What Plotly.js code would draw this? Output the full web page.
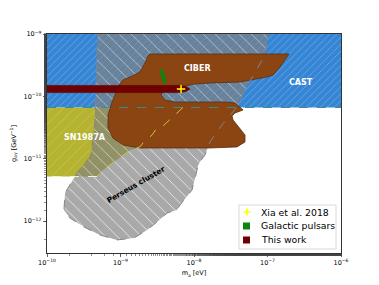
<!DOCTYPE html>
<html>
<head>
<meta charset="utf-8">
<script src="https://cdn.plot.ly/plotly-3.0.1.min.js"></script>
<style>html,body{margin:0;padding:0;background:#fff;}#chart{width:379px;height:285px;}</style>
</head>
<body>
<div id="chart"></div>
<script>
// ---- data (axion mass m_a in eV, coupling g_ay in GeV^-1) ----
const castM = [1e-10, 1e-6, 1e-6, 1e-10];
const castG = [6.64e-11, 6.64e-11, 1e-9, 1e-9];

const snM = [1e-10, 7.08e-9, 5.03e-9, 3.67e-9, 3.14e-9, 2.69e-9, 2.02e-9, 1.84e-9, 1.35e-9, 8.96e-10, 5.78e-10, 4.79e-10, 1e-10];
const snG = [6.64e-11, 6.64e-11, 4.51e-11, 3.24e-11, 3.12e-11, 2.41e-11, 1.79e-11, 1.55e-11, 1.38e-11, 9.57e-12, 6.62e-12, 5.2e-12, 5.2e-12];

const perseusM = [4.9e-10, 1.02e-7, 9.24e-8, 6.15e-8, 4.94e-8, 3.85e-8, 2.40e-8, 1.65e-8, 1.55e-8, 1.41e-8, 1.21e-8, 1.13e-8, 1.06e-8, 9.40e-9, 7.31e-9, 6.45e-9, 5.87e-9, 4.29e-9, 3.14e-9, 2.29e-9, 1.53e-9, 8.96e-10, 5.26e-10, 3.19e-10, 2.06e-10, 1.70e-10, 1.76e-10, 2.56e-10, 3.09e-10, 3.85e-10, 4.22e-10, 4.50e-10, 4.50e-10, 4.65e-10, 4.9e-10];
const perseusG = [1e-9, 1e-9, 4.60e-10, 1.97e-10, 1.27e-10, 6.76e-11, 3.48e-11, 1.86e-11, 1.49e-11, 1.15e-11, 9.0e-12, 7.67e-12, 5.50e-12, 3.16e-12, 2.19e-12, 1.82e-12, 1.51e-12, 1.35e-12, 9.70e-13, 7.22e-13, 5.38e-13, 5.00e-13, 6.01e-13, 8.07e-13, 1.12e-12, 1.51e-12, 2.83e-12, 5.92e-12, 7.96e-12, 1.07e-11, 2.00e-11, 4.19e-11, 6.76e-11, 2.65e-10, 1e-9];

const ciberM = [2.52e-9, 1.96e-7, 1.48e-7, 1.19e-7, 9.84e-8, 4.23e-8, 1.65e-8, 1.03e-8, 7.54e-9, 4.71e-9, 3.79e-9, 3.56e-9, 4.03e-9, 5.51e-9, 1.21e-8, 2.64e-8, 3.61e-8, 4.65e-8, 3.61e-8, 3.29e-8, 3.40e-8, 3.85e-8, 4.94e-8, 4.94e-8, 3.85e-8, 1.65e-8, 1.84e-9, 1.08e-9, 7.90e-10, 6.76e-10, 6.76e-10, 7.66e-10, 8.41e-10, 8.96e-10, 1.08e-9, 1.35e-9, 1.84e-9, 2.15e-9, 2.37e-9, 2.52e-9];
const ciberG = [4.78e-10, 4.78e-10, 2.96e-10, 2.20e-10, 2.05e-10, 1.70e-10, 1.64e-10, 1.58e-10, 1.47e-10, 1.36e-10, 1.27e-10, 1.05e-10, 8.75e-11, 8.13e-11, 8.13e-11, 8.13e-11, 7.83e-11, 6.05e-11, 5.42e-11, 4.85e-11, 4.19e-11, 3.48e-11, 2.41e-11, 1.86e-11, 1.55e-11, 1.49e-11, 1.49e-11, 1.66e-11, 2.15e-11, 3.12e-11, 5.04e-11, 8.13e-11, 1.05e-10, 1.36e-10, 1.83e-10, 2.05e-10, 2.46e-10, 3.43e-10, 4.44e-10, 4.78e-10];

const thisWorkM = [9e-11, 6.45e-9, 7.78e-9, 8.83e-9, 7.78e-9, 6.45e-9, 9e-11];
const thisWorkG = [1.50e-10, 1.50e-10, 1.44e-10, 1.31e-10, 1.20e-10, 1.15e-10, 1.15e-10];

const pulsarM = [3.52e-9, 3.73e-9, 3.91e-9, 4.09e-9, 4.09e-9, 4.03e-9, 3.84e-9, 3.67e-9, 3.50e-9, 3.48e-9, 3.52e-9];
const pulsarG = [2.72e-10, 2.60e-10, 2.29e-10, 1.90e-10, 1.67e-10, 1.61e-10, 1.67e-10, 1.97e-10, 2.37e-10, 2.60e-10, 2.72e-10];

const xiaM = [6.66e-9];
const xiaG = [1.31e-10];

const labelText = ['CIBER', 'CAST', 'SN1987A', 'Perseus cluster'];
const labelM = [1.10e-8, 2.86e-7, 3.24e-10, 1.63e-9];
const labelG = [2.85e-10, 1.64e-10, 2.23e-11, 3.87e-12];

const legendNames = ['Xia et al. 2018', 'Galactic pulsars', 'This work'];
const legendColors = ['#ffff00', '#0a870a', '#6e0000'];

const xTickVals = [1e-10, 1e-9, 1e-8, 1e-7, 1e-6];
const xTickText = ['10<sup>−10</sup>', '10<sup>−9</sup>', '10<sup>−8</sup>', '10<sup>−7</sup>', '10<sup>−6</sup>'];
const yTickVals = [1e-12, 1e-11, 1e-10, 1e-9];
const yTickText = ['10<sup>−12</sup>', '10<sup>−11</sup>', '10<sup>−10</sup>', '10<sup>−9</sup>'];

// ---- traces ----
const FONT = 'DejaVu Sans, sans-serif';
const region = (x, y, extra) => Object.assign({x, y, mode: 'lines', fill: 'toself', line: {width: 0}, showlegend: false, hoverinfo: 'skip'}, extra);
const traces = [
  region(castM, castG, {fillcolor: '#3585d5',
   fillpattern: {shape: '/', bgcolor: '#3585d5', fgcolor: 'rgba(255,255,255,0.4)', size: 5, solidity: 0.12}}),
  region(snM, snG, {fillcolor: '#b5b32f',
   fillpattern: {shape: '/', bgcolor: '#b5b32f', fgcolor: 'rgba(255,255,255,0.3)', size: 8, solidity: 0.08}}),
  region(perseusM, perseusG, {opacity: 0.68, fillcolor: '#808080',
   fillpattern: {shape: '\\', bgcolor: '#808080', fgcolor: '#e4e4e4', size: 8.5, solidity: 0.1}}),
  region(ciberM, ciberG, {fillcolor: '#8b4513', line: {color: '#5e2c0b', width: 0.8}}),
  {x: perseusM, y: perseusG, mode: 'lines', line: {color: '#858585', width: 1, dash: 'dash'}, showlegend: false, hoverinfo: 'skip'},
  {x: snM.slice(1, 12), y: snG.slice(1, 12), mode: 'lines', line: {color: '#c8c62e', width: 1, dash: 'dash'}, showlegend: false, hoverinfo: 'skip'},
  {x: snM.slice(11), y: snG.slice(11), mode: 'lines', line: {color: '#f4f2c0', width: 1, dash: 'dash'}, showlegend: false, hoverinfo: 'skip'},
  {x: castM.slice(0, 2), y: castG.slice(0, 2), mode: 'lines', line: {color: '#3a8c8c', width: 1, dash: 'dash'}, showlegend: false, hoverinfo: 'skip'},
  region(thisWorkM, thisWorkG, {fillcolor: legendColors[2], line: {color: '#5a0000', width: 0.6}}),
  region(pulsarM, pulsarG, {fillcolor: legendColors[1], line: {color: legendColors[1], width: 0.5, shape: 'spline'}}),
  {x: xiaM, y: xiaG, mode: 'markers', marker: {symbol: 'cross-thin', size: 6, color: legendColors[0], line: {color: legendColors[0], width: 1.5}},
   showlegend: false, hoverinfo: 'skip'}
];

const annotations = labelText.map((t, i) => ({
  x: Math.log10(labelM[i]), y: Math.log10(labelG[i]), xref: 'x', yref: 'y', text: '<b>' + t + '</b>',
  showarrow: false, textangle: t === 'Perseus cluster' ? -30 : 0,
  font: {family: FONT, size: t === 'Perseus cluster' ? 7.5 : 8, color: t === 'Perseus cluster' ? '#000' : '#fff'}
}));

// ---- hand-built legend box (paper coordinates) ----
const legRowY = [0.1872, 0.1233, 0.0594];
const shapes = [
  {type: 'rect', xref: 'paper', yref: 'paper', x0: 0.6531, x1: 0.9830, y0: 0.0183, y1: 0.2192,
   fillcolor: 'rgba(255,255,255,0.85)', line: {color: '#d0d0d0', width: 0.8}, layer: 'above'},
  {type: 'line', xref: 'paper', yref: 'paper', x0: 0.6684, x1: 0.6922, y0: legRowY[0], y1: legRowY[0],
   line: {color: legendColors[0], width: 1.5}, layer: 'above'},
  {type: 'line', xref: 'paper', yref: 'paper', x0: 0.6803, x1: 0.6803, y0: legRowY[0] - 0.016, y1: legRowY[0] + 0.016,
   line: {color: legendColors[0], width: 1.5}, layer: 'above'}
];
[1, 2].forEach(i => shapes.push({type: 'rect', xref: 'paper', yref: 'paper', x0: 0.6667, x1: 0.6905,
  y0: legRowY[i] - 0.016, y1: legRowY[i] + 0.016, fillcolor: legendColors[i], line: {width: 0}, layer: 'above'}));
legendNames.forEach((n, i) => annotations.push({xref: 'paper', yref: 'paper', x: 0.7211, y: legRowY[i], xanchor: 'left', yanchor: 'middle',
  text: n, showarrow: false, font: {family: FONT, size: 9.3, color: '#000'}}));

const layout = {
  width: 379, height: 285,
  margin: {l: 47, r: 38, t: 34, b: 32},
  paper_bgcolor: '#fff', plot_bgcolor: '#fff',
  font: {family: FONT, size: 6.5, color: '#000'},
  xaxis: {type: 'log', range: [-10, -6], tickvals: xTickVals, ticktext: xTickText, ticks: 'outside', ticklen: 3.5, tickwidth: 0.8,
          showgrid: false, zeroline: false, showline: true, linecolor: '#000', linewidth: 0.8, mirror: true,
          minor: {ticks: 'outside', ticklen: 2, tickwidth: 0.6, showgrid: false},
          tickfont: {size: 6.5}, title: {text: 'm<sub>a</sub> [eV]', font: {size: 6.5}, standoff: 4}},
  yaxis: {type: 'log', range: [-12.51, -9], tickvals: yTickVals, ticktext: yTickText, ticks: 'outside', ticklen: 3.5, tickwidth: 0.8,
          showgrid: false, zeroline: false, showline: true, linecolor: '#000', linewidth: 0.8, mirror: true,
          minor: {ticks: 'outside', ticklen: 2, tickwidth: 0.6, showgrid: false},
          tickfont: {size: 6.5}, title: {text: 'g<sub>aγ</sub> [GeV<sup>−1</sup>]', font: {size: 6.5}, standoff: 6}},
  annotations: annotations,
  shapes: shapes,
  showlegend: false
};

Plotly.newPlot('chart', traces, layout, {staticPlot: true, displayModeBar: false});
</script>
</body>
</html>
